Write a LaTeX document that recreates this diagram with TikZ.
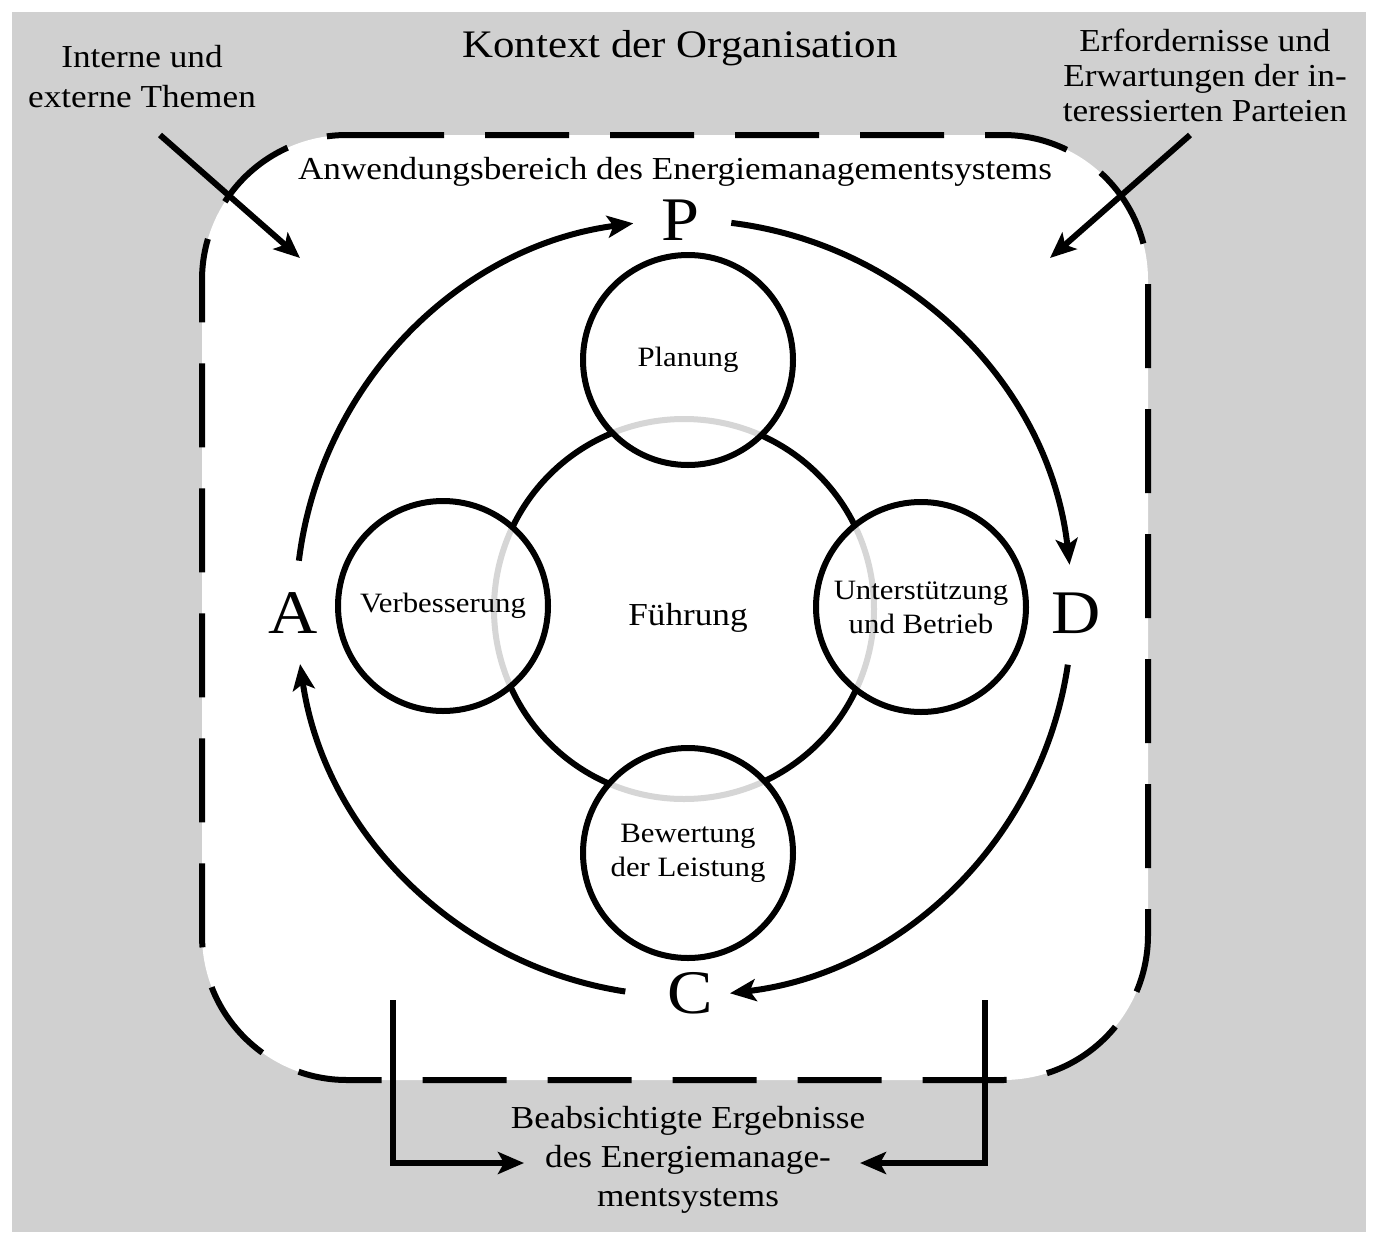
\documentclass[tikz,border=0pt]{standalone}
\usepackage{fontspec}
\setmainfont{Liberation Serif}[FakeStretch=1.1]
\usetikzlibrary{arrows.meta}
\definecolor{bggray}{RGB}{208,208,208}
\tikzset{
  thickline/.style={line width=6pt, line cap=butt},
  cyc/.style={line width=6pt, -{Stealth[length=26pt,width=22pt,inset=6pt]}},
  side/.style={line width=6pt, -{Stealth[length=26pt,width=22pt,inset=6pt]}},
  smallc/.style={circle, draw, line width=6pt, minimum size=210pt, inner sep=0pt,
    fill=white, fill opacity=0.84, text opacity=1, align=center,
    font=\fontsize{28pt}{34pt}\selectfont},
  lbl/.style={align=center, inner sep=0pt},
  big/.style={inner sep=0pt, font=\fontsize{62pt}{62pt}\selectfont},
}
\begin{document}
\begin{tikzpicture}[x=1pt,y=-1pt]
\useasboundingbox (0,0) rectangle (1379,1253);
\fill[white] (0,0) rectangle (1379,1253);
\fill[bggray] (12,12) rectangle (1366,1232);

% scope of the EnMS: dashed rounded rectangle
\fill[white, rounded corners=145pt] (202,135) rectangle (1148,1080);
\draw[thickline, rounded corners=145pt, dash pattern=on 84pt off 41pt]
  (360,135) -- (1148,135) -- (1148,1080) -- (202,1080) -- (202,135) -- (360,135);

% titles
\node[lbl, font=\fontsize{39pt}{44pt}\selectfont] (kontext) at (680,48) {Kontext der Organisation};
\node[lbl, font=\fontsize{32pt}{40pt}\selectfont] (intern) at (142,77) {Interne und\\externe Themen};
\node[lbl, font=\fontsize{32pt}{35pt}\selectfont] (erford) at (1205,75) {Erfordernisse und\\Erwartungen der in-\\teressierten Parteien};
\node[lbl, font=\fontsize{32pt}{36pt}\selectfont] (anwend) at (675,172) {Anwendungsbereich des Energiemanagementsystems};
\node[lbl, font=\fontsize{32pt}{39pt}\selectfont] (ergeb) at (688,1160) {Beabsichtigte Ergebnisse\\des Energiemanage-\\mentsystems};

% corner arrows
\coordinate (intS) at (160,135);
\coordinate (intE) at (300,258);
\coordinate (erfS) at (1190,135);
\coordinate (erfE) at (1050,258);
\draw[side] (intS) -- (intE);
\draw[side] (erfS) -- (erfE);

% bottom brackets
\coordinate (blS) at (393,1000);
\coordinate (blE) at (524,1163);
\coordinate (brS) at (985,1000);
\coordinate (brE) at (860,1163);
\draw[side] (blS) |- (blE);
\draw[side] (brS) |- (brE);

% Fuehrung circle
\node[circle, draw, line width=6pt, minimum size=380pt, inner sep=0pt] (fuehr) at (684,609) {};
\node[lbl, font=\fontsize{32pt}{36pt}\selectfont] (fuehrtxt) at (688,618) {Führung};

% small circles
\node[smallc] (plan) at (688,360) {Planung};
\node[smallc] (verb) at (443,606) {Verbesserung};
\node[smallc] (unter) at (921,607) {Unterstützung\\und Betrieb};
\node[smallc] (bew) at (688,853) {Bewertung\\der Leistung};

% PDCA letters
\node[big] (P) at (680,220) {P};
\node[big] (D) at (1076,613) {D};
\node[big] (C) at (690,993) {C};
\node[big] (A) at (293,613) {A};

% PDCA cycle arcs
\coordinate (ctr) at (684,608);
\draw[cyc] (ctr) ++(-173:388) arc[start angle=-173, end angle=-97.5, radius=388];
\draw[cyc] (ctr) ++(-83:388) arc[start angle=-83, end angle=-6.4, radius=388];
\draw[cyc] (ctr) ++(8.4:388) arc[start angle=8.4, end angle=83.2, radius=388];
\draw[cyc] (ctr) ++(98.7:388) arc[start angle=98.7, end angle=171.7, radius=388];
\end{tikzpicture}
\end{document}
